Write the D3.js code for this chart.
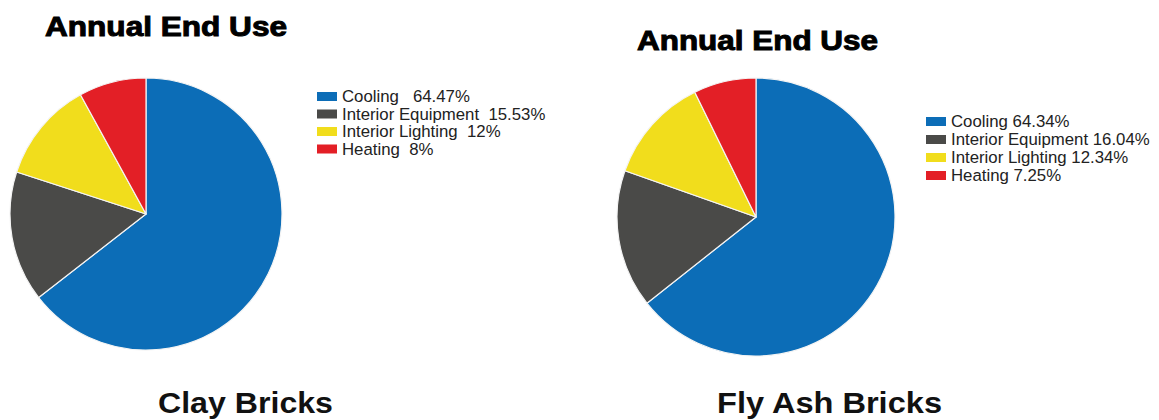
<!DOCTYPE html>
<html>
<head>
<meta charset="utf-8">
<script src="https://cdn.jsdelivr.net/npm/d3@7/dist/d3.min.js"></script>
<style>
  html, body { margin: 0; padding: 0; background: #fff; }
  svg { display: block; }
  text { white-space: pre; }
</style>
</head>
<body>
<svg id="chart" width="1159" height="420"></svg>
<script>
// ---- data ----
const categories = ["Cooling", "Interior Equipment", "Interior Lighting", "Heating"];
const clayValues = [64.47, 15.53, 12, 8];
const flyAshValues = [64.34, 16.04, 12.34, 7.25];
const clayLegendLabels = ["Cooling   64.47%", "Interior Equipment  15.53%", "Interior Lighting  12%", "Heating  8%"];
const flyAshLegendLabels = ["Cooling 64.34%", "Interior Equipment 16.04%", "Interior Lighting 12.34%", "Heating 7.25%"];
const colors = ["#0C6DB7", "#4A4A48", "#F1DD1C", "#E31F26"];
const titleText = "Annual End Use";
const chartNames = ["Clay Bricks", "Fly Ash Bricks"];

const svg = d3.select("#chart");
const color = d3.scaleOrdinal().domain(categories).range(colors);
const pie = d3.pie().sort(null).value(d => d.value);

const panels = [
  { values: clayValues, legend: clayLegendLabels, name: chartNames[0],
    cx: 146, cy: 214, r: 136,
    title: { x: 45, y: 36, len: 242 },
    leg: { x: 317, y: 102, pitch: 17.5 },
    label: { x: 158, y: 413, len: 175 } },
  { values: flyAshValues, legend: flyAshLegendLabels, name: chartNames[1],
    cx: 756, cy: 217, r: 139,
    title: { x: 637, y: 50, len: 241 },
    leg: { x: 926, y: 127, pitch: 18 },
    label: { x: 717, y: 413, len: 225 } }
];

panels.forEach(p => {
  const data = categories.map((c, i) => ({ cat: c, value: p.values[i] }));
  const arc = d3.arc().innerRadius(0).outerRadius(p.r);
  const g = svg.append("g").attr("transform", `translate(${p.cx},${p.cy})`);
  g.selectAll("path").data(pie(data)).join("path")
    .attr("d", arc)
    .attr("fill", d => color(d.data.cat))
    .attr("stroke", "#f4f4f4")
    .attr("stroke-width", 1.2)
    .attr("stroke-linejoin", "round");

  // title
  svg.append("text")
    .attr("x", p.title.x).attr("y", p.title.y)
    .attr("font-family", "Liberation Sans, Arial, sans-serif")
    .attr("font-weight", "bold")
    .attr("font-size", 27.5)
    .attr("stroke", "#000").attr("stroke-width", 1.0)
    .attr("textLength", p.title.len)
    .attr("lengthAdjust", "spacingAndGlyphs")
    .attr("fill", "#000")
    .text(titleText);

  // legend
  const lg = svg.append("g");
  const rows = lg.selectAll("g").data(categories).join("g")
    .attr("transform", (d, i) => `translate(${p.leg.x},${p.leg.y + i * p.leg.pitch})`);
  rows.append("rect")
    .attr("x", 0).attr("y", -10).attr("width", 20).attr("height", 9)
    .attr("fill", d => color(d));
  rows.append("text")
    .attr("x", 25).attr("y", 0)
    .attr("font-family", "Liberation Sans, Arial, sans-serif")
    .attr("font-size", 16.8)
    .attr("fill", "#222")
    .text((d, i) => p.legend[i]);

  // bottom label
  svg.append("text")
    .attr("x", p.label.x).attr("y", p.label.y)
    .attr("font-family", "Liberation Sans, Arial, sans-serif")
    .attr("font-weight", "bold")
    .attr("font-size", 29)
    .attr("textLength", p.label.len)
    .attr("lengthAdjust", "spacingAndGlyphs")
    .attr("fill", "#111")
    .text(p.name);
});
</script>
</body>
</html>
